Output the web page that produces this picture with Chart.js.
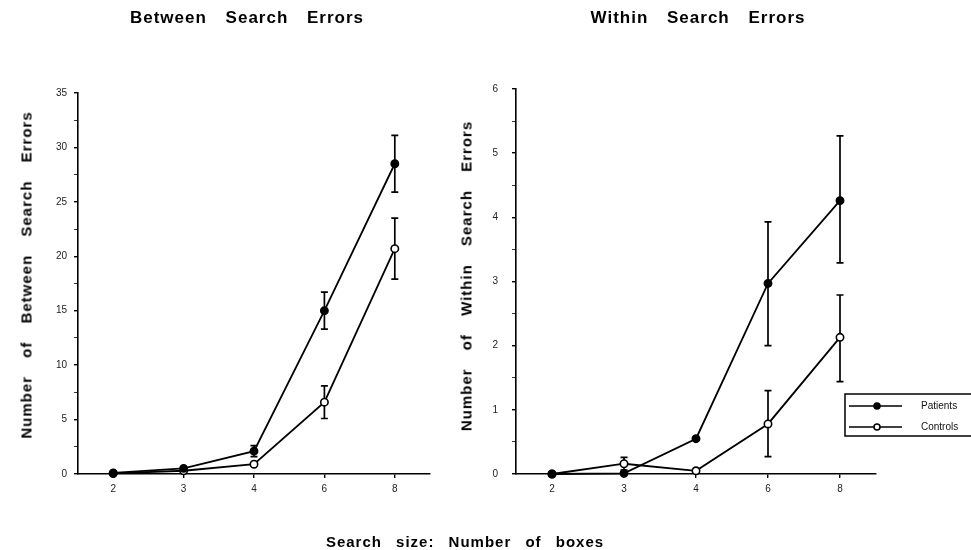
<!DOCTYPE html>
<html>
<head>
<meta charset="utf-8">
<script src="https://cdn.jsdelivr.net/npm/chart.js@4"></script>
<style>
  body { margin: 0; background: #fff; }
  #page { position: relative; width: 971px; height: 550px; overflow: hidden; background: #fff; }
  .box { position: absolute; top: 0; height: 550px; }
  .txt {
    position: absolute; white-space: nowrap; color: #000;
    font: bold 15px "Liberation Sans", Arial, sans-serif;
    letter-spacing: 1px; word-spacing: 12px;
    transform: translate(-50%, -50%);
  }
  .head { font-size: 17px; word-spacing: 13px; }
  .rot { transform: translate(-50%, -50%) rotate(-90deg); }
</style>
</head>
<body>
<div id="page">
  <div class="box" style="left:0;width:460px"><canvas id="between" width="460" height="550"></canvas></div>
  <div class="box" style="left:460px;width:511px"><canvas id="within" width="511" height="550"></canvas></div>
  <div class="txt head" style="left:247px;top:18px">Between Search Errors</div>
  <div class="txt head" style="left:698px;top:18px">Within Search Errors</div>
  <div class="txt rot" style="left:26px;top:275px;word-spacing:13px">Number of Between Search Errors</div>
  <div class="txt rot" style="left:466px;top:276px;word-spacing:13px">Number of Within Search Errors</div>
  <div class="txt" style="left:465px;top:541px;word-spacing:9px">Search size: Number of boxes</div>
</div>
<script>
// search sizes (x categories)
const sizes = ['2', '3', '4', '6', '8'];

// between search errors
const betweenPatients = [0.1, 0.52, 2.1, 15.0, 28.5];
const betweenPatientsLow = [null, null, 1.6, 13.3, 25.9];
const betweenPatientsHigh = [null, null, 2.6, 16.7, 31.1];
const betweenControls = [0.05, 0.3, 0.9, 6.6, 20.7];
const betweenControlsLow = [null, null, null, 5.1, 17.9];
const betweenControlsHigh = [null, null, null, 8.1, 23.5];

// within search errors
const withinPatients = [0, 0.01, 0.55, 2.97, 4.26];
const withinPatientsLow = [null, null, null, 2.0, 3.29];
const withinPatientsHigh = [null, null, null, 3.93, 5.27];
const withinControls = [0, 0.16, 0.05, 0.78, 2.13];
const withinControlsLow = [null, 0.06, null, 0.27, 1.44];
const withinControlsHigh = [null, 0.26, null, 1.3, 2.79];

const tickFont = { family: '"Liberation Sans", Arial, sans-serif', size: 10 };

// draws the vertical error bars with caps, under the lines and points
const errorBars = {
    id: 'errorBars',
    beforeDatasetsDraw(chart) {
        const ctx = chart.ctx;
        const y = chart.scales.y;
        ctx.save();
        ctx.strokeStyle = '#000';
        ctx.lineWidth = 1.7;
        chart.data.datasets.forEach((ds, i) => {
            const meta = chart.getDatasetMeta(i);
            meta.data.forEach((pt, j) => {
                if (ds.errLow[j] == null) return;
                const top = y.getPixelForValue(ds.errHigh[j]);
                const bot = y.getPixelForValue(ds.errLow[j]);
                ctx.beginPath();
                ctx.moveTo(pt.x, top);
                ctx.lineTo(pt.x, bot);
                ctx.moveTo(pt.x - 3.5, top);
                ctx.lineTo(pt.x + 3.5, top);
                ctx.moveTo(pt.x - 3.5, bot);
                ctx.lineTo(pt.x + 3.5, bot);
                ctx.stroke();
            });
        });
        ctx.restore();
    }
};

// boxed legend sitting at the lower right of the within chart
const boxLegend = {
    id: 'boxLegend',
    afterDraw(chart, args, opts) {
        if (!opts.show) return;
        const ctx = chart.ctx;
        const a = chart.chartArea;
        const x0 = a.right - 31, y0 = a.bottom - 80;
        ctx.save();
        ctx.strokeStyle = '#000';
        ctx.lineWidth = 1.5;
        ctx.fillStyle = '#fff';
        ctx.fillRect(x0, y0, 140, 42);
        ctx.strokeRect(x0, y0, 140, 42);
        ctx.font = '10px "Liberation Sans", Arial, sans-serif';
        ctx.textBaseline = 'middle';
        chart.data.datasets.forEach((ds, i) => {
            const ly = y0 + 12 + i * 21;
            ctx.beginPath();
            ctx.moveTo(x0 + 4, ly);
            ctx.lineTo(x0 + 57, ly);
            ctx.lineWidth = 1.5;
            ctx.stroke();
            ctx.beginPath();
            ctx.arc(x0 + 32, ly, 3, 0, Math.PI * 2);
            ctx.fillStyle = ds.pointBackgroundColor;
            ctx.fill();
            ctx.stroke();
            ctx.fillStyle = '#111';
            ctx.fillText(ds.label, x0 + 76, ly);
        });
        ctx.restore();
    }
};

function makeChart(id, patients, pLow, pHigh, controls, cLow, cHigh, yMax, yStep, yWidth, yPad, topPad, rightPad, showLegend) {
    const data = {
        labels: sizes,
        datasets: [{
            label: 'Patients',
            data: patients,
            errLow: pLow,
            errHigh: pHigh,
            borderColor: '#000',
            borderWidth: 1.8,
            pointBackgroundColor: '#000',
            pointBorderColor: '#000',
            pointBorderWidth: 1.5,
            pointRadius: 3.7,
            clip: false
        }, {
            label: 'Controls',
            data: controls,
            errLow: cLow,
            errHigh: cHigh,
            borderColor: '#000',
            borderWidth: 1.8,
            pointBackgroundColor: '#fff',
            pointBorderColor: '#000',
            pointBorderWidth: 1.6,
            pointRadius: 3.7,
            clip: false
        }]
    };

    const config = {
        type: 'line',
        data: data,
        plugins: [errorBars, boxLegend],
        options: {
            responsive: false,
            animation: false,
            devicePixelRatio: 1,
            layout: { padding: { top: topPad, right: rightPad, left: 0, bottom: 0 } },
            plugins: {
                legend: { display: false },
                tooltip: { enabled: false },
                boxLegend: { show: showLegend }
            },
            scales: {
                x: {
                    type: 'category',
                    offset: true,
                    border: { color: '#000', width: 1.6 },
                    grid: { drawOnChartArea: false, color: '#000', tickLength: 4, lineWidth: 1.4 },
                    ticks: { color: '#222', font: tickFont, padding: 5, maxRotation: 0 },
                    afterFit(scale) { scale.height = 76; }
                },
                y: {
                    min: 0,
                    max: yMax,
                    border: { color: '#000', width: 1.6 },
                    grid: {
                        drawOnChartArea: false,
                        tickLength: 4,
                        color: '#000',
                        lineWidth: (c) => (c.tick && Number.isInteger(c.tick.value / (yStep * 2)) ? 1.4 : 0.8)
                    },
                    ticks: {
                        stepSize: yStep,
                        color: '#222',
                        font: tickFont,
                        padding: yPad,
                        callback: (v) => (Number.isInteger(v / (yStep * 2)) ? v : '')
                    },
                    afterFit(scale) { scale.width = yWidth; }
                }
            }
        }
    };

    return new Chart(document.getElementById(id), config);
}

makeChart('between', betweenPatients, betweenPatientsLow, betweenPatientsHigh,
    betweenControls, betweenControlsLow, betweenControlsHigh, 35, 2.5, 78, 7, 93, 30, false);
makeChart('within', withinPatients, withinPatientsLow, withinPatientsHigh,
    withinControls, withinControlsLow, withinControlsHigh, 6, 0.5, 56, 14, 89, 95, true);
</script>
</body>
</html>
